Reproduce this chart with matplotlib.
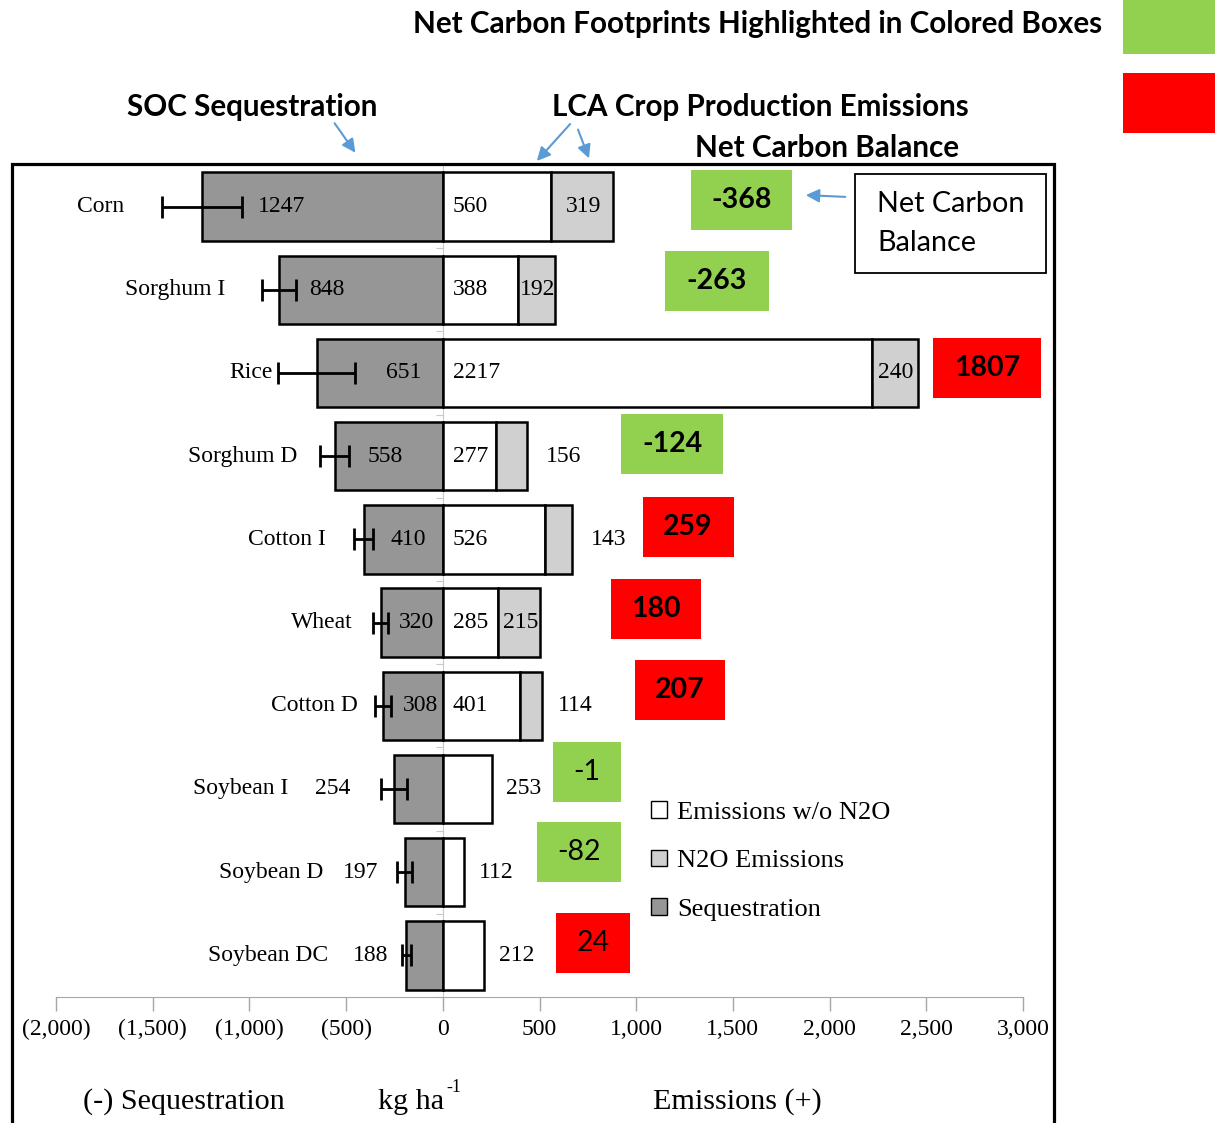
import matplotlib
matplotlib.use('Agg')
import matplotlib.pyplot as plt
from matplotlib.patches import Rectangle, Patch
import numpy as np

# ---------------- data ----------------
crops = ['Corn', 'Sorghum I', 'Rice', 'Sorghum D', 'Cotton I', 'Wheat',
         'Cotton D', 'Soybean I', 'Soybean D', 'Soybean DC']
sequestration = [1247, 848, 651, 558, 410, 320, 308, 254, 197, 188]
seq_err = [207, 88, 199, 75, 49, 39, 41, 67, 39, 23]
emissions = [560, 388, 2217, 277, 526, 285, 401, 253, 112, 212]
n2o = [319, 192, 240, 156, 143, 215, 114, 0, 0, 0]
net_balance = [-368, -263, 1807, -124, 259, 180, 207, -1, -82, 24]
xticks = [-2000, -1500, -1000, -500, 0, 500, 1000, 1500, 2000, 2500, 3000]
xtick_labels = ['(2,000)', '(1,500)', '(1,000)', '(500)', '0', '500', '1,000',
                '1,500', '2,000', '2,500', '3,000']

# ---------------- layout (label positions, pixels) ----------------
cat_label_x = [-1649, -1122, -879, -750, -605, -465, -440, -796, -620, -595]
seq_label_x = [-835, -600, -202, -300, -178, -137, -114, -571, -427, -375]
emis_label_x = [142, 142, 173, 142, 142, 142, 142, 419, 274, 380]
n2o_label_x = [727, 489, 2342, 623, 856, 401, 685]
box_cx = [742, 717, 987, 672, 688, 656, 680, 587, 579, 593]
box_cy = [200, 281, 368, 444, 527, 609, 690, 772, 852, 943]
box_w = [101, 104, 108, 102, 91, 90, 90, 68, 84, 74]
box_h = 60
bold_box = [True] * 7 + [False] * 3

SEQ_C = '#969696'
N2O_C = '#d0d0d0'
GREEN = '#92D050'
RED = '#FF0000'
BLUE = '#5B9BD5'
GRAY = '#a6a6a6'
SERIF = 'Liberation Serif'
SANS = 'Lato'

W, H = 1215, 1123
fig = plt.figure(figsize=(W / 100, H / 100), dpi=100)


def fx(x):
    return x / W


def fy(y):
    return 1 - y / H


ax = fig.add_axes([fx(56), fy(997), (1023 - 56) / W, (997 - 165) / H])
n = len(crops)
y = np.arange(n)
bh = 0.82

ax.barh(y, [-s for s in sequestration], height=bh, color=SEQ_C,
        edgecolor='black', linewidth=1.8, zorder=2)
ax.barh(y, emissions, height=bh, color='white', edgecolor='black',
        linewidth=1.8, zorder=2)
n2o_idx = [i for i in range(n) if n2o[i] > 0]
ax.barh([y[i] for i in n2o_idx], [n2o[i] for i in n2o_idx], height=bh,
        left=[emissions[i] for i in n2o_idx], color=N2O_C, edgecolor='black',
        linewidth=1.8, zorder=2)
ax.errorbar([-s for s in sequestration], y, xerr=seq_err, fmt='none',
            ecolor='black', elinewidth=2, capsize=8, capthick=2, zorder=3)

ax.set_xlim(-2000, 3000)
ax.set_ylim(n - 0.5, -0.5)
ax.set_xticks(xticks)
ax.set_xticklabels(xtick_labels, fontfamily=SERIF, fontsize=17)
ax.tick_params(axis='x', direction='out', length=10, color=GRAY, width=1,
               pad=6)
for s in ['top', 'right']:
    ax.spines[s].set_visible(False)
ax.spines['bottom'].set_color(GRAY)
ax.spines['left'].set_position(('data', 0))
ax.spines['left'].set_color('#c8c8c8')
ax.spines['left'].set_zorder(0.5)
ax.set_yticks(np.arange(-0.5, n, 1))
ax.tick_params(axis='y', direction='out', length=5, color='#c8c8c8',
               labelleft=False)

fs = 17
for i in range(n):
    ax.text(cat_label_x[i], y[i], crops[i], ha='right', va='center',
            fontfamily=SERIF, fontsize=fs)
    ax.text(seq_label_x[i], y[i], str(sequestration[i]), ha='center',
            va='center', fontfamily=SERIF, fontsize=fs, zorder=4)
    ax.text(emis_label_x[i], y[i], str(emissions[i]), ha='center',
            va='center', fontfamily=SERIF, fontsize=fs, zorder=4)
for i, xv in enumerate(n2o_label_x):
    ax.text(xv, y[i], str(n2o[i]), ha='center', va='center',
            fontfamily=SERIF, fontsize=fs, zorder=4)

# net balance boxes
for i in range(n):
    col = GREEN if net_balance[i] < 0 else RED
    fig.add_artist(Rectangle((fx(box_cx[i] - box_w[i] / 2), fy(box_cy[i] + box_h / 2)),
                             box_w[i] / W, box_h / H, transform=fig.transFigure,
                             facecolor=col, edgecolor='none'))
    fig.text(fx(box_cx[i]), fy(box_cy[i]), str(net_balance[i]), ha='center',
             va='center', fontfamily=SANS,
             fontweight='bold' if bold_box[i] else 'normal', fontsize=20.5)

# legend
handles = [Patch(facecolor='white', edgecolor='black', label='Emissions w/o N2O'),
           Patch(facecolor=N2O_C, edgecolor='black', label='N2O Emissions'),
           Patch(facecolor=SEQ_C, edgecolor='black', label='Sequestration')]
fig.legend(handles=handles, loc='upper left', bbox_to_anchor=(fx(651), fy(801)),
           frameon=False, prop={'family': SERIF, 'size': 19},
           handlelength=0.6, handleheight=0.6, handletextpad=0.4,
           labelspacing=0.98, borderpad=0, borderaxespad=0)

# axis titles
fig.text(fx(184), fy(1102), '(-) Sequestration', ha='center', va='center',
         fontfamily=SERIF, fontsize=21.7)
fig.text(fx(378), fy(1102), 'kg ha', ha='left', va='center',
         fontfamily=SERIF, fontsize=21.7)
fig.text(fx(446), fy(1087), '-1', ha='left', va='center',
         fontfamily=SERIF, fontsize=13)
fig.text(fx(737), fy(1102), 'Emissions (+)', ha='center', va='center',
         fontfamily=SERIF, fontsize=21.7)

# outer frame
fig.add_artist(Rectangle((fx(11.5), fy(1135)), (1054 - 11.5) / W, (1135 - 163.5) / H,
                         transform=fig.transFigure, fill=False,
                         edgecolor='black', linewidth=2.3))

# headers
HFS = 21.3
fig.text(fx(758), fy(24), 'Net Carbon Footprints Highlighted in Colored Boxes',
         ha='center', va='center', fontfamily=SANS, fontweight='bold', fontsize=HFS)
fig.add_artist(Rectangle((fx(1123), fy(54)), 92 / W, 54 / H,
                         transform=fig.transFigure, facecolor=GREEN, edgecolor='none'))
fig.add_artist(Rectangle((fx(1123), fy(133)), 92 / W, 60 / H,
                         transform=fig.transFigure, facecolor=RED, edgecolor='none'))
fig.text(fx(252), fy(107), 'SOC Sequestration', ha='center', va='center',
         fontfamily=SANS, fontweight='bold', fontsize=HFS)
fig.text(fx(760), fy(107), 'LCA Crop Production Emissions', ha='center',
         va='center', fontfamily=SANS, fontweight='bold', fontsize=HFS)
fig.text(fx(827), fy(148), 'Net Carbon Balance', ha='center', va='center',
         fontfamily=SANS, fontweight='bold', fontsize=HFS)

# Net Carbon Balance text box
fig.add_artist(Rectangle((fx(855), fy(273)), (1046 - 855) / W, (273 - 174) / H,
                         transform=fig.transFigure, facecolor='white',
                         edgecolor='black', linewidth=1.3))
fig.text(fx(877), fy(204), 'Net Carbon', ha='left', va='center',
         fontfamily=SANS, fontsize=20.7)
fig.text(fx(877), fy(243), 'Balance', ha='left', va='center',
         fontfamily=SANS, fontsize=20.7)

# arrows
arrows = [((333, 121), (357, 155)), ((572, 122), (535, 163)),
          ((577, 127), (590, 161)), ((848, 197), (803, 195))]
for (x0, y0), (x1, y1) in arrows:
    fig.add_artist(matplotlib.patches.FancyArrowPatch(
        (fx(x0), fy(y0)), (fx(x1), fy(y1)), transform=fig.transFigure,
        arrowstyle='-|>,head_length=8,head_width=4', color=BLUE, linewidth=1.5))

fig.savefig('out.png', dpi=100)
